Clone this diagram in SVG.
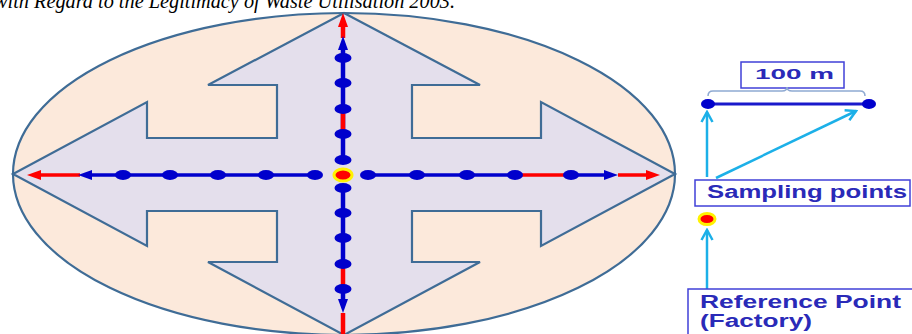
<svg xmlns="http://www.w3.org/2000/svg" width="912" height="334" viewBox="0 0 912 334">
<style>
.outline{stroke:#3F6C96;stroke-width:2.2;stroke-linejoin:miter}
.blue{stroke:#0000CC;stroke-width:3.5;fill:none}
.red{stroke:#FF0000;stroke-width:3.5;fill:none}
.v{stroke-width:4.5}
.dot{fill:#0000CC}
.cyan{stroke:#1CB0E8;stroke-width:2.5;fill:none}
.lbl{font-family:"Liberation Sans",Arial,sans-serif;font-weight:bold;fill:#2A2AB8}
.box{fill:#FFFFFF;stroke:#4040D8;stroke-width:1.5}
</style>
<defs>
<marker id="ahB" markerUnits="userSpaceOnUse" markerWidth="15" markerHeight="11" viewBox="0 0 15 11" refX="4" refY="5.5" orient="auto"><path d="M0,0.5 L14,5.5 L0,10.5 z" fill="#0000CC"/></marker>
<marker id="ahR" markerUnits="userSpaceOnUse" markerWidth="15" markerHeight="11" viewBox="0 0 15 11" refX="4" refY="5.5" orient="auto"><path d="M0,0.5 L14,5.5 L0,10.5 z" fill="#FF0000"/></marker>
<marker id="ahC" markerUnits="userSpaceOnUse" markerWidth="14" markerHeight="14" viewBox="0 0 14 14" refX="12" refY="7" orient="auto"><path d="M2,1.5 L12,7 L2,12.5" fill="none" stroke="#1CB0E8" stroke-width="2.5"/></marker>
</defs>

<text x="-6" y="8" font-family="Liberation Serif,'Times New Roman',serif" font-style="italic" font-size="21" textLength="461" lengthAdjust="spacingAndGlyphs" fill="#000">with Regard to the Legitimacy of Waste Utilisation 2003.</text>

<g id="area">
<ellipse cx="344" cy="174" rx="331" ry="161" fill="#FCE9DB" class="outline"/>
</g>
<g id="quad-arrow">
<polygon class="outline" fill="#E4DFEC" points="344,13 480,85 412,85 412,138 541,138 541,102 675,174 541,246 541,211 412,211 412,262 480,262 344,335 208,262 277,262 277,211 147,211 147,246 13,174 147,102 147,138 277,138 277,85 208,85"/>
</g>

<g id="connectors">
<line class="red" x1="80" y1="175" x2="37" y2="175" marker-end="url(#ahR)"/>
<line class="blue" x1="315" y1="175" x2="88" y2="175" marker-end="url(#ahB)"/>
<line class="blue" x1="368" y1="175" x2="515" y2="175"/>
<line class="red" x1="515" y1="175" x2="571" y2="175"/>
<line class="blue" x1="571" y1="175" x2="608" y2="175" marker-end="url(#ahB)"/>
<line class="red" x1="618" y1="175" x2="650" y2="175" marker-end="url(#ahR)"/>
<line class="red v" x1="343" y1="38" x2="343" y2="23" marker-end="url(#ahR)"/>
<line class="blue v" x1="343" y1="160" x2="343" y2="46" marker-end="url(#ahB)"/>
<line class="red v" x1="343" y1="112" x2="343" y2="131"/>
<line class="blue v" x1="343" y1="184" x2="343" y2="264"/>
<line class="red v" x1="343" y1="264" x2="343" y2="289"/>
<line class="blue v" x1="343" y1="289" x2="343" y2="303" marker-end="url(#ahB)"/>
<line class="red v" x1="343" y1="313" x2="343" y2="336"/>
<line class="cyan" x1="707" y1="177" x2="707" y2="112" marker-end="url(#ahC)"/>
<line class="cyan" x1="716" y1="178" x2="856" y2="111" marker-end="url(#ahC)"/>
<line class="cyan" x1="707" y1="290" x2="707" y2="230" marker-end="url(#ahC)"/>
</g>

<g id="sampling-points">
<ellipse class="dot" cx="123" cy="175" rx="8" ry="5"/>
<ellipse class="dot" cx="170" cy="175" rx="8" ry="5"/>
<ellipse class="dot" cx="218" cy="175" rx="8" ry="5"/>
<ellipse class="dot" cx="266" cy="175" rx="8" ry="5"/>
<ellipse class="dot" cx="315" cy="175" rx="8" ry="5"/>
<ellipse class="dot" cx="368" cy="175" rx="8" ry="5"/>
<ellipse class="dot" cx="417" cy="175" rx="8" ry="5"/>
<ellipse class="dot" cx="467" cy="175" rx="8" ry="5"/>
<ellipse class="dot" cx="515" cy="175" rx="8" ry="5"/>
<ellipse class="dot" cx="571" cy="175" rx="8" ry="5"/>
<ellipse class="dot" cx="343" cy="58" rx="8.5" ry="5"/>
<ellipse class="dot" cx="343" cy="83" rx="8.5" ry="5"/>
<ellipse class="dot" cx="343" cy="109" rx="8.5" ry="5"/>
<ellipse class="dot" cx="343" cy="134" rx="8.5" ry="5"/>
<ellipse class="dot" cx="343" cy="160" rx="8.5" ry="5"/>
<ellipse class="dot" cx="343" cy="188" rx="8.5" ry="5"/>
<ellipse class="dot" cx="343" cy="213" rx="8.5" ry="5"/>
<ellipse class="dot" cx="343" cy="238" rx="8.5" ry="5"/>
<ellipse class="dot" cx="343" cy="264" rx="8.5" ry="5"/>
<ellipse class="dot" cx="343" cy="289" rx="8.5" ry="5"/>
</g>

<g id="reference-point">
<ellipse cx="343" cy="175" rx="9" ry="6" fill="#FF0000" stroke="#FFF200" stroke-width="3"/>
</g>

<g id="scale-legend">
<rect class="box" x="741" y="62" width="103" height="26"/>
<text class="lbl" x="755" y="79" font-size="15" textLength="79" lengthAdjust="spacingAndGlyphs">100 m</text>
<path d="M708,96 Q708,91 713,91 L782,91 Q787,91 787,87 Q787,91 792,91 L860,91 Q865,91 865,96" fill="none" stroke="#8FAAD2" stroke-width="1.5"/>
<line x1="708" y1="104" x2="869" y2="104" stroke="#1A1ACC" stroke-width="3"/>
<ellipse class="dot" cx="708" cy="104" rx="7" ry="5"/>
<ellipse class="dot" cx="869" cy="104" rx="7" ry="5"/>
</g>

<g id="sampling-label">
<rect class="box" x="695" y="180" width="215" height="26"/>
<text class="lbl" x="707" y="198" font-size="18" textLength="200" lengthAdjust="spacingAndGlyphs">Sampling points</text>
</g>

<g id="reference-legend">
<ellipse cx="707" cy="219" rx="8" ry="5.5" fill="#FF0000" stroke="#FFF200" stroke-width="3"/>
</g>

<g id="reference-label">
<rect class="box" x="688" y="289" width="240" height="60"/>
<text class="lbl" x="700" y="308" font-size="18" textLength="201" lengthAdjust="spacingAndGlyphs">Reference Point</text>
<text class="lbl" x="700" y="327" font-size="18" textLength="112" lengthAdjust="spacingAndGlyphs">(Factory)</text>
</g>
</svg>
